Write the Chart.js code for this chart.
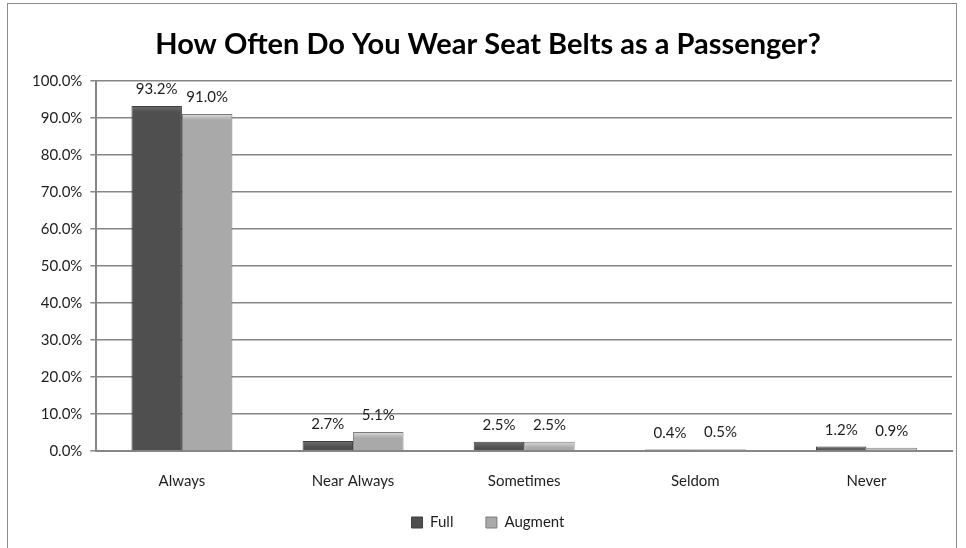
<!DOCTYPE html>
<html>
<head>
<meta charset="utf-8">
<title>Seat Belt Use as a Passenger</title>
<script src="https://cdn.jsdelivr.net/npm/chart.js@4"></script>
<style>
  html, body { margin: 0; padding: 0; background: #fff; }
  #frame {
    position: absolute; left: 7px; top: 3px; width: 950px; height: 600px;
    border: 1px solid #8c8c8c; box-sizing: border-box;
  }
  #wrap { position: absolute; left: 0; top: 0; width: 966px; height: 548px; }
</style>
</head>
<body>
<div id="frame"></div>
<div id="wrap"><canvas id="belts"></canvas></div>
<script>
var categories = ['Always', 'Near Always', 'Sometimes', 'Seldom', 'Never'];
var fullData = [93.2, 2.7, 2.5, 0.4, 1.2];
var augmentData = [91.0, 5.1, 2.5, 0.5, 0.9];
var yTicks = [0, 10, 20, 30, 40, 50, 60, 70, 80, 90, 100];

var FONT = 'Lato, "Open Sans", sans-serif';

// shaded fill for each bar, lighter at the top edge
function barShade(top, bottom) {
  return function (ctx) {
    var chart = ctx.chart;
    if (ctx.type !== 'data' || !chart.scales.y) return bottom;
    var y = chart.scales.y;
    var y0 = y.getPixelForValue(ctx.raw);
    var y1 = y.getPixelForValue(0);
    if (!isFinite(y0) || !isFinite(y1) || y1 - y0 < 1) return bottom;
    var g = chart.ctx.createLinearGradient(0, y0, 0, y1);
    g.addColorStop(0, top);
    g.addColorStop(Math.min(1, 6 / (y1 - y0)), bottom);
    g.addColorStop(1, bottom);
    return g;
  };
}

// writes each bar's value above it
var valueLabels = {
  id: 'valueLabels',
  afterDatasetsDraw: function (chart) {
    var c = chart.ctx;
    c.save();
    c.font = '15px ' + FONT;
    c.fillStyle = '#1e1e1e';
    c.textAlign = 'center';
    c.textBaseline = 'bottom';
    chart.data.datasets.forEach(function (ds, i) {
      chart.getDatasetMeta(i).data.forEach(function (bar, j) {
        c.fillText(ds.data[j].toFixed(1) + '%', bar.x, bar.y - 9);
      });
    });
    c.restore();
  }
};

new Chart(document.getElementById('belts'), {
  type: 'bar',
  data: {
    labels: categories,
    datasets: [{
      label: 'Full',
      data: fullData,
      backgroundColor: barShade('#6e6e6e', '#4f4f4f'),
      borderColor: '#3e3e3e',
      borderWidth: 1
    }, {
      label: 'Augment',
      data: augmentData,
      backgroundColor: barShade('#dcdcdc', '#a9a9a9'),
      borderColor: '#7c7c7c',
      borderWidth: 1
    }]
  },
  options: {
    responsive: true,
    maintainAspectRatio: false,
    animation: false,
    layout: { padding: { left: 24, right: 14, top: 27, bottom: 8 } },
    datasets: {
      bar: { barPercentage: 1.0, categoryPercentage: 0.59 }
    },
    scales: {
      x: {
        grid: { display: false, drawTicks: false },
        border: { color: '#868686', width: 2 },
        ticks: { color: '#1e1e1e', font: { family: FONT, size: 15 }, padding: 21 },
        afterFit: function (axis) { axis.height = 54; }
      },
      y: {
        min: 0,
        max: 100,
        afterBuildTicks: function (axis) {
          axis.ticks = yTicks.map(function (v) { return { value: v }; });
        },
        grid: { color: '#868686', lineWidth: 1.5, tickLength: 6 },
        border: { color: '#868686', width: 2 },
        ticks: {
          color: '#1e1e1e',
          font: { family: FONT, size: 15 },
          padding: 8,
          callback: function (v) { return v.toFixed(1) + '%'; }
        }
      }
    },
    plugins: {
      title: {
        display: true,
        text: 'How Often Do You Wear Seat Belts as a Passenger?',
        color: '#000',
        font: { family: FONT, size: 29, weight: 'bold' },
        padding: { top: 0, bottom: 19 }
      },
      legend: {
        position: 'bottom',
        labels: {
          color: '#1e1e1e',
          font: { family: FONT, size: 15 },
          boxWidth: 11,
          boxHeight: 11,
          padding: 10,
          useBorderRadius: false,
          // extra room after "Full" so the two entries sit apart
          generateLabels: function (chart) {
            var items = Chart.defaults.plugins.legend.labels.generateLabels(chart);
            items[0].text += '\u2003\u2003';
            return items;
          }
        }
      },
      tooltip: { enabled: false }
    }
  },
  plugins: [valueLabels]
});
</script>
</body>
</html>
